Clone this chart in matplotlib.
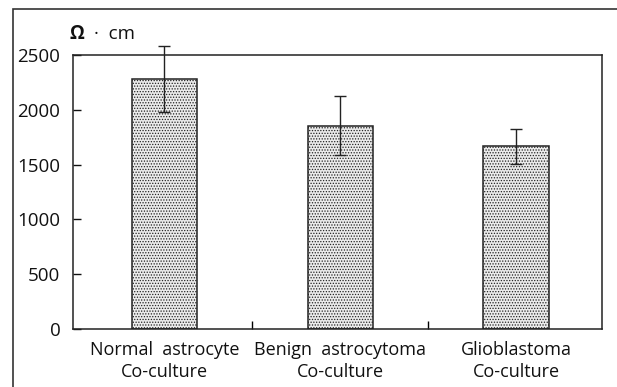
import matplotlib
matplotlib.use("Agg")
import matplotlib.pyplot as plt
from matplotlib.patches import Rectangle

# values (resistance, Ohm*cm)
categories = ["Normal  astrocyte\nCo-culture",
              "Benign  astrocytoma\nCo-culture",
              "Glioblastoma\nCo-culture"]
means = [2280, 1855, 1665]
errors = [305, 270, 160]
yticks = [0, 500, 1000, 1500, 2000, 2500]

plt.rcParams["font.family"] = ["Open Sans", "DejaVu Sans"]
plt.rcParams["hatch.color"] = "#9a9a9a"
plt.rcParams["hatch.linewidth"] = 0.6

fig = plt.figure(figsize=(6.17, 3.87), dpi=100)
ax = fig.add_axes([0.118, 0.150, 0.858, 0.708])

xs = list(range(len(categories)))
ax.bar(xs, means, width=0.37, color="#ebebeb", edgecolor="#222222",
       linewidth=1.1, hatch="......", zorder=2)
ax.errorbar(xs, means, yerr=errors, fmt="none", ecolor="#222222",
            elinewidth=1.0, capsize=4.5, capthick=1.0, zorder=3, clip_on=False)

ax.set_xlim(-0.52, 2.49)
ax.set_ylim(0, 2500)
ax.set_yticks(yticks)
ax.tick_params(axis="y", direction="in", length=6, width=1, pad=9,
               labelsize=13.5, colors="#111111")

# separator ticks between groups, labels at the bar centres
ax.set_xticks([0.5, 1.5])
ax.set_xticklabels([])
ax.tick_params(axis="x", which="major", direction="in", length=6, width=1)
ax.set_xticks(xs, minor=True)
ax.set_xticklabels(categories, minor=True, fontsize=13, linespacing=1.25)
ax.tick_params(axis="x", which="minor", length=0, pad=9, colors="#111111")

for s in ax.spines.values():
    s.set_linewidth(1.1)
    s.set_color("#222222")

fig.text(0.113, 0.913, "Ω", fontsize=13.5, fontweight="bold", ha="left",
         va="center", color="#111111")
fig.text(0.153, 0.913, "·  cm", fontsize=13.5, ha="left", va="center",
         color="#111111")

# frame around the whole figure (left and top edges visible)
fig.patches.append(Rectangle((0.021, -0.1), 1.2, 1.077, transform=fig.transFigure,
                             fill=False, edgecolor="#333333", linewidth=1.2))

fig.savefig("out.png", dpi=100)
